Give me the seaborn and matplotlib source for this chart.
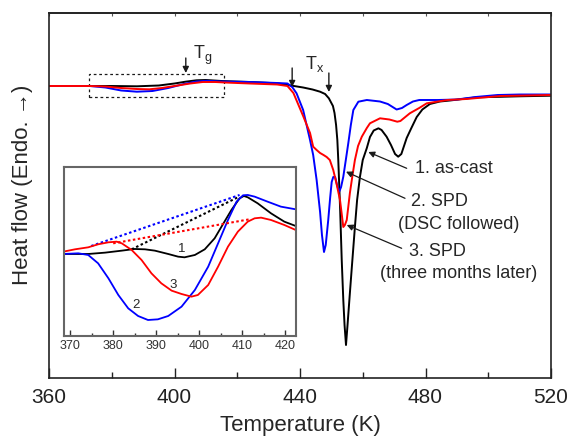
import matplotlib
matplotlib.use("Agg")
import matplotlib.pyplot as plt
import numpy as np
import pandas as pd
import seaborn as sns
from matplotlib.patches import Rectangle
from matplotlib.ticker import MultipleLocator

# ---------------- main DSC curves (heat flow, arbitrary units) ----------------
t_cast = [360, 373, 380, 388, 395, 400, 403.5, 407, 410, 415, 424, 432.7, 437.5, 441, 444,
          446.4, 448, 449.2, 450.5, 451, 451.5, 451.9, 452.2, 452.8, 453.3, 453.8, 454.2,
          454.66, 455.1, 455.9, 456.5, 457.5, 458.2, 459.1, 460, 461.3, 462.3, 463.5, 465,
          466, 467.6, 469, 470.3, 471.3, 472.3, 474, 475.5, 477.2, 479, 481.4, 484.6, 487.8,
          496.3, 503.8, 510, 520]
hf_cast = [0, 0, 0, -0.3, 0.5, 2.5, 4.3, 5.7, 6, 5, 4, 2.7, 0.3, -1.5, -3.5,
           -5.7, -8, -12.3, -20, -27, -39, -54, -74, -124, -174, -214, -239,
           -259, -241, -207, -182, -141, -114, -91, -74, -62, -51, -44.5, -42.3,
           -44, -50.7, -59, -68, -70.7, -68, -52, -42, -31, -23.5, -18, -15.5, -14.5,
           -11.3, -10.8, -10.3, -9.7]

t_dsc = [360, 373, 378, 383, 388, 393, 398, 403, 407, 410, 415, 424, 432.7, 436, 437.5,
         438.9, 441, 443.2, 444.2, 445.3, 446.4, 447, 447.65, 448.2, 449, 449.6, 450.1,
         450.6, 451.2, 451.8, 452.5, 453.1, 453.8, 454.6, 455.4, 456.2, 457, 458.6, 461.3,
         465.5, 468, 470.8, 472.5, 474, 476, 478, 484, 490, 496, 503, 510, 520]
hf_dsc = [0, 0, -1.5, -4.5, -5.7, -5, -2, 2, 4.5, 5.2, 4.5, 4, 3, 2.5, -1,
          -7.3, -24, -54, -69, -94, -126, -149, -166, -159, -134, -112, -96,
          -91, -91, -99, -105.7, -101, -90.7, -74, -57, -39, -24, -15.7, -14,
          -15.5, -18, -23.5, -22, -19, -15.5, -14, -14, -13.5, -11, -9, -8.5, -8.5]

t_3m = [360, 373, 378, 383, 388, 392, 396, 400, 405, 409, 413, 416, 424, 432.7, 436,
        437.9, 441, 443.2, 444.2, 445.3, 446.4, 447.5, 448.5, 449.5, 450.6, 451.6, 452.75,
        453.3, 453.8, 454.3, 454.9, 455.9, 456.7, 457.5, 458.5, 459.7, 461.3, 462.3, 465.5,
        468.5, 471, 472, 475, 478, 480.4, 483.6, 487, 493, 503.8, 520]
hf_3m = [0, 0, -0.5, -2, -3, -3.3, -2, 0, 2.5, 4, 4, 3.5, 2.5, 1.5, 0,
         -7, -30, -47, -60.7, -64, -67, -69, -71, -74, -84, -97, -114,
         -128, -141, -139, -134, -107, -90, -74, -60, -50.7, -42, -37.3, -32.3,
         -33.5, -35.7, -35, -27.3, -22, -17.3, -15.7, -14, -13, -10, -9]

# ---------------- inset (glass-transition region, arbitrary units) ----------------
ti_cast = [368.41, 374.2, 378.1, 382.0, 385.0, 387.4, 389.7, 392.8, 395.1, 396.6, 399.0,
           401.3, 403.6, 405.2, 407.5, 409.4, 410.4, 411.3, 413.6, 416.7, 419.8, 422.45]
hi_cast = [0, 0, 4, 10, 15, 14, 10, 0, -8, -10, -3,
           14, 47, 82, 132, 167, 174, 170, 152, 122, 97, 84]

ti_dsc = [368.41, 371.9, 374.2, 376.5, 378.9, 381.2, 383.5, 385.8, 388.1, 390.4, 392.8,
          395.9, 399.0, 402.1, 404.4, 406.7, 408.7, 410.2, 411.3, 412.9, 415.9, 419.0, 422.45]
hi_dsc = [0, 2, -3, -28, -73, -123, -163, -186, -198, -196, -186,
          -158, -108, -38, 32, 102, 157, 176, 177, 172, 157, 142, 134]

ti_3m = [368.41, 371.12, 374.2, 376.5, 378.9, 380.8, 382.0, 384.3, 386.6, 388.9, 391.2,
         393.6, 395.9, 398.2, 399.7, 402.1, 404.4, 406.7, 409.0, 411.3, 412.9, 414.4,
         416.7, 419.8, 422.45]
hi_3m = [7, 14, 20, 29, 35, 37, 32, 12, -18, -58, -88,
         -110, -120, -128, -123, -93, -38, 22, 67, 97, 107, 109,
         102, 87, 72]

# straight (dotted) baselines in the inset: [start, end]
base_cast_t, base_cast_h = [384.3, 409.0], [14, 170]
base_dsc_t, base_dsc_h = [374.9, 409.4], [24, 177]
base_3m_t, base_3m_h = [380.0, 411.7], [32, 104]

x_ticks = [360, 400, 440, 480, 520]
top_ticks = [360, 380, 400, 420, 440, 460, 480, 500, 520]
inset_ticks = [370, 380, 390, 400, 410, 420]

BLACK, BLUE, RED = "#000000", "#0000ff", "#ff0000"

sns.set_theme(style="ticks")
plt.rcParams["font.family"] = ["Liberation Sans", "DejaVu Sans"]
plt.rcParams["mathtext.fontset"] = "custom"
plt.rcParams["mathtext.rm"] = "Liberation Sans"

fig = plt.figure(figsize=(5.69, 4.40), dpi=100)
ax = fig.add_axes([49 / 569, 62 / 440, 502 / 569, 365 / 440])

main = [(t_cast, hf_cast, BLACK), (t_dsc, hf_dsc, BLUE), (t_3m, hf_3m, RED)]
for t, h, c in main:
    df = pd.DataFrame({"T": t, "HF": h})
    sns.lineplot(data=df, x="T", y="HF", color=c, lw=1.4, estimator=None,
                 sort=False, ax=ax)

ax.set_xlim(360, 520)
ax.set_ylim(-292, 73)
ax.set_xticks(x_ticks)
ax.xaxis.set_minor_locator(MultipleLocator(20))
ax.set_yticks([])
ax.tick_params(axis="x", which="major", direction="in", length=7, width=1,
               labelsize=15, pad=7, colors="#222222")
ax.tick_params(axis="x", which="minor", direction="in", length=4, width=1,
               colors="#222222")
for s in ax.spines.values():
    s.set_linewidth(1.2)
    s.set_color("#222222")
    s.set_visible(True)

sec = ax.secondary_xaxis("top")
sec.set_xticks(top_ticks)
sec.tick_params(axis="x", direction="in", length=2, width=0.8, labeltop=False,
                colors="#555555")
sec.spines["top"].set_linewidth(1.2)
sec.spines["top"].set_color("#222222")

ax.set_xlabel("Temperature (K)", fontsize=16, labelpad=6)
ax.set_ylabel("Heat flow (Endo. \u2192)", fontsize=16, va="center")
ax.yaxis.set_label_coords(-0.052, 0.53)

# dashed box around Tg region
ax.add_patch(Rectangle((372.7, -11.3), 43.1, 23.3, fill=False, ec="k",
                       lw=0.9, ls=(0, (2.2, 2.2))))

arw = dict(arrowstyle="-|>", color="k", lw=1.0, mutation_scale=9,
           shrinkA=0, shrinkB=0)
ax.annotate("", xy=(403.6, 13), xytext=(403.6, 28), arrowprops=arw)
ax.annotate("", xy=(437.5, -1), xytext=(437.5, 18), arrowprops=arw)
ax.annotate("", xy=(449.2, -6), xytext=(449.2, 13), arrowprops=arw)
ax.text(405.9, 26.7, r"$\mathregular{T_g}$", fontsize=13, ha="left", va="baseline")
ax.text(441.6, 16.7, r"$\mathregular{T_x}$", fontsize=13, ha="left", va="baseline")

arw2 = dict(arrowstyle="-|>", color="k", lw=0.9, mutation_scale=9,
            shrinkA=0, shrinkB=0)
ax.annotate("", xy=(461.77, -66), xytext=(474.0, -82.3), arrowprops=arw2)
ax.text(476.65, -82.3, "1. as-cast", fontsize=13, ha="left", va="center")
ax.annotate("", xy=(454.66, -85.7), xytext=(473.47, -112.3), arrowprops=arw2)
ax.text(484.3, -115, "2. SPD", fontsize=13, ha="center", va="center")
ax.text(490.5, -138, "(DSC followed)", fontsize=13, ha="center", va="center")
ax.annotate("", xy=(454.9, -139), xytext=(472.4, -162.3), arrowprops=arw2)
ax.text(483.7, -165, "3. SPD", fontsize=13, ha="center", va="center")
ax.text(490.4, -188, "(three months later)", fontsize=13, ha="center", va="center")

# ---------------- inset ----------------
axi = fig.add_axes([63.5 / 569, (440 - 336) / 440, 232.2 / 569, 168.7 / 440])
inset = [(ti_cast, hi_cast, base_cast_t, base_cast_h, BLACK),
         (ti_dsc, hi_dsc, base_dsc_t, base_dsc_h, BLUE),
         (ti_3m, hi_3m, base_3m_t, base_3m_h, RED)]
for t, h, bt, bh, c in inset:
    sns.lineplot(x=t, y=h, color=c, lw=1.3, estimator=None, sort=False, ax=axi)
    sns.lineplot(x=bt, y=bh, color=c, lw=1.5, estimator=None, sort=False, ax=axi,
                 linestyle=(0, (1.2, 1.2)))
axi.set_xlim(368.45, 422.45)
axi.set_ylim(-246, 260)
axi.set_xticks(inset_ticks)
axi.xaxis.set_minor_locator(MultipleLocator(5))
axi.set_yticks([])
axi.set_xlabel("")
axi.set_ylabel("")
axi.tick_params(axis="x", which="major", direction="in", length=4, width=1,
                labelsize=9, pad=3, colors="#333333")
axi.tick_params(axis="x", which="minor", direction="in", length=2.5, width=1,
                colors="#333333")
for s in axi.spines.values():
    s.set_linewidth(1.5)
    s.set_color("#666666")
    s.set_visible(True)
axi.text(395.9, 14, "1", fontsize=9.5, ha="center", va="center")
axi.text(385.4, -153, "2", fontsize=9.5, ha="center", va="center")
axi.text(393.9, -93, "3", fontsize=9.5, ha="center", va="center")

fig.savefig("out.png", dpi=100)
